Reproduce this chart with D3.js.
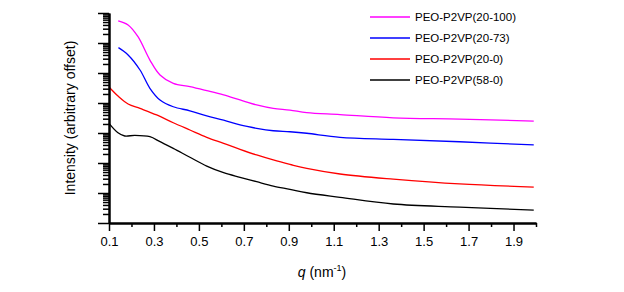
<!DOCTYPE html>
<html>
<head>
<meta charset="utf-8">
<script src="https://cdn.jsdelivr.net/npm/d3@7"></script>
<style>
  body { margin: 0; background: #fff; }
  svg { font-family: "Liberation Sans", Arial, sans-serif; }
</style>
</head>
<body>
<svg width="624" height="292"></svg>
<script>
// q values (nm^-1) and intensities (log axis, arbitrary offset)
const qMagenta = [0.141, 0.185, 0.229, 0.282, 0.327, 0.386, 0.46, 0.535, 0.61, 0.683, 0.757, 0.831, 0.905, 0.98, 1.128, 1.365, 1.66, 1.99];
const iMagenta = [5.5e6, 4.0e6, 1.62e6, 2.7e5, 8.6e4, 4.5e4, 3.5e4, 2.57e4, 1.85e4, 1.26e4, 8.6e3, 6.6e3, 5.8e3, 4.75e3, 4.1e3, 3.2e3, 2.9e3, 2.5e3];

const qBlue = [0.142, 0.185, 0.238, 0.282, 0.327, 0.386, 0.46, 0.535, 0.61, 0.683, 0.757, 0.831, 0.905, 0.98, 1.128, 1.365, 1.66, 1.99];
const iBlue = [7.0e5, 4.0e5, 1.26e5, 3.1e4, 1.26e4, 7.5e3, 5.5e3, 3.7e3, 2.7e3, 1.85e3, 1.43e3, 1.19e3, 1.1e3, 980, 720, 610, 510, 400];

const qRed = [0.1, 0.14, 0.185, 0.238, 0.312, 0.386, 0.46, 0.535, 0.61, 0.683, 0.757, 0.831, 0.905, 0.98, 1.128, 1.365, 1.66, 1.99];
const iRed = [3.4e4, 1.7e4, 9.3e3, 6.6e3, 4.0e3, 2.2e3, 1.26e3, 720, 454, 286, 185, 126, 90, 66, 43, 29, 20, 15.8];

const qBlack = [0.1, 0.14, 0.17, 0.215, 0.282, 0.327, 0.386, 0.46, 0.535, 0.61, 0.683, 0.757, 0.831, 0.905, 0.98, 1.128, 1.365, 1.66, 1.99];
const iBlack = [2.1e3, 1.02e3, 794, 838, 753, 513, 309, 155, 79, 47.5, 33.4, 23.8, 17.1, 13.3, 10.2, 7.2, 4.3, 3.4, 2.7];

const seriesNames = ['PEO-P2VP(20-100)', 'PEO-P2VP(20-73)', 'PEO-P2VP(20-0)', 'PEO-P2VP(58-0)'];
const seriesColors = ['#ff00ff', '#0000ff', '#ff0000', '#000000'];

const xMajorTicks = [0.1, 0.3, 0.5, 0.7, 0.9, 1.1, 1.3, 1.5, 1.7, 1.9];
const xMinorTicks = [0.2, 0.4, 0.6, 0.8, 1.0, 1.2, 1.4, 1.6, 1.8, 2.0];

const series = [
    { name: seriesNames[0], color: seriesColors[0], q: qMagenta, v: iMagenta },
    { name: seriesNames[1], color: seriesColors[1], q: qBlue, v: iBlue },
    { name: seriesNames[2], color: seriesColors[2], q: qRed, v: iRed },
    { name: seriesNames[3], color: seriesColors[3], q: qBlack, v: iBlack }
];

const svg = d3.select('svg');

const x = d3.scaleLinear().domain([0.1, 2.0]).range([109, 536]);
const y = d3.scaleLog().domain([1, 1e7]).range([223, 13]);

// log ticks: decades are major, 2..9 minor
const yMajor = d3.range(0, 8).map(k => Math.pow(10, k));
const yMinor = [];
d3.range(0, 7).forEach(k => {
    for (let m = 2; m <= 9; m++) yMinor.push(m * Math.pow(10, k));
});

const line = d3.line()
    .x(d => x(d[0]))
    .y(d => y(d[1]))
    .curve(d3.curveCatmullRom.alpha(0.5));

svg.append('g').selectAll('path')
    .data(series)
    .enter().append('path')
    .attr('d', s => line(s.q.map((q, i) => [q, s.v[i]])))
    .attr('fill', 'none')
    .attr('stroke', s => s.color)
    .attr('stroke-width', 1.3);

// axes
function styleAxis(g) {
    g.select('.domain').attr('stroke', '#000').attr('stroke-width', 2);
    g.selectAll('.tick line').attr('stroke', '#000').attr('stroke-width', 1.5);
    g.selectAll('.tick text').attr('fill', '#000');
}

svg.append('g')
    .attr('transform', 'translate(109,0)')
    .call(d3.axisLeft(y).tickValues(yMinor).tickSize(6).tickFormat('').tickSizeOuter(0))
    .call(styleAxis);

svg.append('g')
    .attr('transform', 'translate(109,0)')
    .call(d3.axisLeft(y).tickValues(yMajor).tickSize(11).tickFormat('').tickSizeOuter(0))
    .call(styleAxis);

svg.append('g')
    .attr('transform', 'translate(0,223)')
    .call(d3.axisBottom(x).tickValues(xMinorTicks).tickSize(4).tickFormat('').tickSizeOuter(0))
    .call(styleAxis);

svg.append('g')
    .attr('transform', 'translate(0,223)')
    .call(d3.axisBottom(x).tickValues(xMajorTicks).tickSize(8).tickPadding(6).tickFormat(d3.format('.1f')).tickSizeOuter(0))
    .call(styleAxis)
    .call(g => g.selectAll('.tick text').style('font-size', '13px'));

// axis titles
const xt = svg.append('text')
    .attr('x', 322)
    .attr('y', 277)
    .attr('text-anchor', 'middle')
    .style('font-size', '14px');
xt.append('tspan').style('font-style', 'italic').text('q');
xt.append('tspan').text(' (nm');
xt.append('tspan').attr('dy', -6).style('font-size', '9px').text('-1');
xt.append('tspan').attr('dy', 6).text(')');

svg.append('text')
    .attr('transform', 'translate(75,118) rotate(-90)')
    .attr('text-anchor', 'middle')
    .style('font-size', '14px')
    .text('Intensity (arbitrary offset)');

// legend
const legend = svg.append('g').attr('transform', 'translate(370,17)');
const items = legend.selectAll('g')
    .data(series)
    .enter().append('g')
    .attr('transform', (d, i) => `translate(0,${i * 21})`);

items.append('line')
    .attr('x1', 0).attr('x2', 40)
    .attr('stroke', d => d.color)
    .attr('stroke-width', 1.3);

items.append('text')
    .attr('x', 45)
    .attr('dy', '0.35em')
    .style('font-size', '11.5px')
    .text(d => d.name);
</script>
</body>
</html>
